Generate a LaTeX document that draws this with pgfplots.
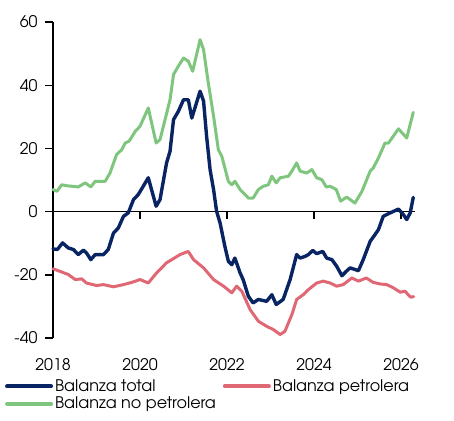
\documentclass[border=0pt]{standalone}
\usepackage{fontspec}
\setmainfont{texgyreadventor}[Extension=.otf, UprightFont=*-regular, BoldFont=*-bold, ItalicFont=*-italic, BoldItalicFont=*-bolditalic]
\usepackage{pgfplots}
\pgfplotsset{compat=1.18}
\definecolor{cnavy}{RGB}{8,36,98}
\definecolor{cred}{RGB}{224,104,116}
\definecolor{cgreen}{RGB}{126,198,126}
\newcommand{\lblfont}{\fontsize{16}{18}\selectfont}
\begin{document}
\begin{tikzpicture}
\useasboundingbox (-53pt,-82pt) rectangle (401pt,338pt);
\begin{axis}[
  scale only axis,
  width=362pt, height=316pt,
  xmin=2018, xmax=2026.32,
  ymin=-40, ymax=60,
  axis y line=left,
  axis x line=bottom,
  x axis line style={draw=none},
  y axis line style={line width=1.4pt, -},
  xtick={2018,2020,2022,2024,2026},
  xticklabels={2018,2020,2022,2024,2026},
  ytick={-40,-20,0,20,40,60},
  yticklabels={-40,-20,0,20,40,60},
  xtick style={draw=none},
  ytick style={line width=1.4pt, black},
  tick align=outside,
  major tick length=8pt,
  yticklabel style={font=\lblfont, xshift=-4pt},
  xticklabel style={font=\lblfont, yshift=-9pt},
  clip=false,
  legend columns=2,
  legend cell align=left,
  legend style={at={(-0.133,-0.125)}, anchor=north west, draw=none, fill=none,
    inner sep=0pt, font=\lblfont, row sep=0pt,
    /tikz/every even column/.append style={column sep=5pt}},
  legend image code/.code={\draw[#1, line width=4pt] (0pt,0pt) -- (44pt,0pt);},
  every axis plot/.append style={line width=3pt, line join=round, line cap=round},
]
\draw[line width=1.4pt] (axis cs:2018,0) -- (axis cs:2026.32,0);
\pgfplotsinvokeforeach{2020,2022,2024,2026}{
  \draw[line width=1.4pt] (axis cs:#1,0) -- ++(0pt,-7pt);
}
% Balanza total
\addplot[cnavy, line width=3.4pt] coordinates {
(2018.00,-11.8) (2018.10,-12.0) (2018.22,-9.9) (2018.35,-11.5) (2018.47,-12.0)
(2018.58,-13.6) (2018.70,-12.2) (2018.77,-13.1) (2018.87,-15.2) (2018.97,-13.6)
(2019.16,-13.6) (2019.27,-12.0) (2019.39,-6.8) (2019.50,-5.2) (2019.62,-1.5)
(2019.73,-0.4) (2019.85,3.8) (2019.96,5.4) (2020.19,10.7) (2020.37,1.7)
(2020.46,3.8) (2020.61,15.4) (2020.69,19.1) (2020.77,29.1) (2020.88,31.7)
(2021.00,35.4) (2021.11,35.4) (2021.19,29.6) (2021.38,38.1) (2021.46,35.0)
(2021.53,23.9) (2021.61,13.3) (2021.69,7.0) (2021.76,0.1) (2021.84,-3.6)
(2021.95,-11.0) (2022.03,-15.7) (2022.11,-16.8) (2022.18,-14.7) (2022.30,-19.4)
(2022.37,-21.5) (2022.49,-26.8) (2022.60,-28.9) (2022.72,-27.8) (2022.91,-28.4)
(2023.03,-26.3) (2023.13,-29.4) (2023.29,-27.8) (2023.45,-21.5) (2023.60,-13.6)
(2023.68,-14.7) (2023.79,-14.2) (2023.87,-13.6) (2023.97,-12.3) (2024.06,-13.3)
(2024.20,-12.6) (2024.29,-14.7) (2024.41,-15.2) (2024.52,-17.3) (2024.64,-20.3)
(2024.74,-18.9) (2024.83,-17.8) (2025.02,-18.7) (2025.13,-15.2) (2025.29,-9.4)
(2025.40,-7.3) (2025.48,-5.7) (2025.59,-1.5) (2025.75,-0.4) (2025.94,0.8)
(2026.05,-0.9) (2026.13,-2.5) (2026.21,-0.4) (2026.28,4.5)
};
\addlegendentry{Balanza total}
% Balanza petrolera
\addplot[cred] coordinates {
(2018.00,-18.1) (2018.16,-18.9) (2018.35,-19.9) (2018.51,-21.5) (2018.66,-21.3)
(2018.77,-22.6) (2019.00,-23.4) (2019.16,-23.1) (2019.39,-23.8) (2019.62,-23.1)
(2019.81,-22.4) (2020.00,-21.5) (2020.19,-22.6) (2020.38,-19.4) (2020.61,-16.2)
(2020.92,-13.6) (2021.11,-12.6) (2021.23,-15.2) (2021.46,-17.8) (2021.69,-21.5)
(2021.92,-23.6) (2022.11,-25.7) (2022.22,-23.6) (2022.34,-25.2) (2022.53,-31.0)
(2022.72,-34.7) (2022.91,-36.3) (2023.06,-37.3) (2023.22,-38.9) (2023.33,-37.9)
(2023.49,-32.6) (2023.60,-27.8) (2023.75,-26.3) (2023.87,-24.7) (2024.06,-22.6)
(2024.21,-22.0) (2024.37,-22.6) (2024.52,-23.6) (2024.67,-23.1) (2024.87,-21.0)
(2025.02,-22.0) (2025.20,-21.0) (2025.36,-22.4) (2025.52,-22.9) (2025.67,-23.1)
(2025.82,-24.1) (2025.98,-25.5) (2026.09,-25.2) (2026.22,-27.1) (2026.29,-26.9)
};
\addlegendentry{Balanza petrolera}
% Balanza no petrolera
\addplot[cgreen] coordinates {
(2018.00,7.0) (2018.09,6.4) (2018.20,8.5) (2018.31,8.2) (2018.58,7.8)
(2018.74,9.1) (2018.87,7.8) (2018.97,9.6) (2019.20,9.6) (2019.31,12.2)
(2019.46,18.0) (2019.58,19.6) (2019.66,21.7) (2019.75,22.3) (2019.89,25.4)
(2020.00,27.0) (2020.19,32.8) (2020.37,21.7) (2020.46,22.8) (2020.69,35.4)
(2020.77,43.4) (2020.88,46.0) (2021.00,48.6) (2021.11,47.6) (2021.21,44.4)
(2021.38,54.4) (2021.46,51.3) (2021.57,40.7) (2021.69,30.2) (2021.80,19.6)
(2021.88,17.5) (2022.03,9.6) (2022.11,8.5) (2022.18,9.6) (2022.30,7.0)
(2022.49,4.3) (2022.60,4.3) (2022.72,7.0) (2022.83,8.0) (2022.95,8.5)
(2023.03,11.2) (2023.13,9.1) (2023.22,10.7) (2023.41,11.2) (2023.49,12.8)
(2023.60,15.4) (2023.68,12.8) (2023.83,12.2) (2023.95,13.3) (2024.06,10.7)
(2024.18,10.1) (2024.28,7.8) (2024.37,8.0) (2024.51,7.0) (2024.61,3.3)
(2024.75,4.6) (2024.94,2.7) (2025.10,6.4) (2025.29,12.8) (2025.36,13.8)
(2025.48,17.0) (2025.63,21.7) (2025.71,21.7) (2025.94,26.2) (2026.13,23.3)
(2026.28,31.4)
};
\addlegendentry{Balanza no petrolera}
\end{axis}
\end{tikzpicture}
\end{document}
